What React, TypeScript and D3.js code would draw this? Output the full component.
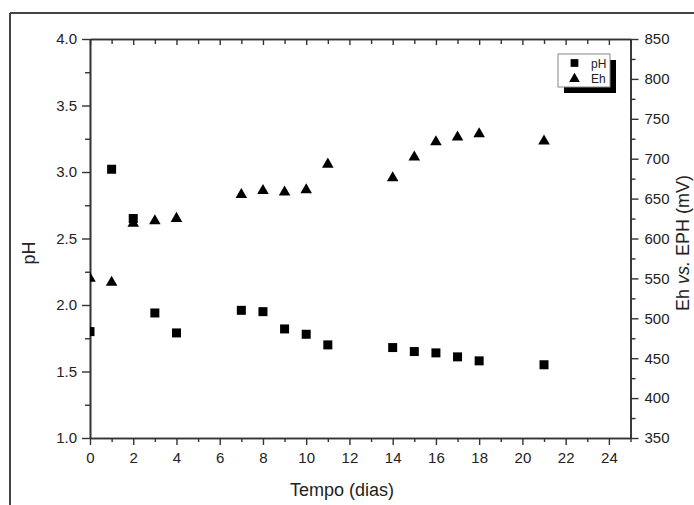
import React, { useEffect, useRef } from "react";
import * as d3 from "d3";

const days = [0, 1, 2, 3, 4, 7, 8, 9, 10, 11, 14, 15, 16, 17, 18, 21];
const phValues = [1.8, 3.02, 2.65, 1.94, 1.79, 1.96, 1.95, 1.82, 1.78, 1.7, 1.68, 1.65, 1.64, 1.61, 1.58, 1.55];
const ehValues = [550, 545, 619, 622, 625, 655, 660, 658, 661, 693, 676, 702, 721, 727, 731, 722];
const xTicks = [0, 2, 4, 6, 8, 10, 12, 14, 16, 18, 20, 22, 24];
const xMinor = [1, 3, 5, 7, 9, 11, 13, 15, 17, 19, 21, 23, 25];
const phTicks = [1.0, 1.5, 2.0, 2.5, 3.0, 3.5, 4.0];
const phMinor = [1.25, 1.75, 2.25, 2.75, 3.25, 3.75];
const ehTicks = [350, 400, 450, 500, 550, 600, 650, 700, 750, 800, 850];
const ehMinor = [375, 425, 475, 525, 575, 625, 675, 725, 775, 825];
const legendLabels = ["pH", "Eh"];

const W = 694;
const H = 505;
const FONT = "'Liberation Sans', Arial, sans-serif";
const AX = "#333";

export default function App() {
  const ref = useRef<SVGSVGElement>(null);

  useEffect(() => {
    const svg = d3.select(ref.current);
    svg.selectAll("*").remove();

    const x = d3.scaleLinear().domain([0, 25]).range([90, 630.5]);
    const yL = d3.scaleLinear().domain([1, 4]).range([438, 39]);
    const yR = d3.scaleLinear().domain([350, 850]).range([438, 39]);

    // outer frame
    svg.append("line").attr("x1", 10).attr("x2", 10).attr("y1", 13).attr("y2", H)
      .attr("stroke", "#444").attr("stroke-width", 2);
    svg.append("line").attr("x1", 10).attr("x2", W).attr("y1", 13).attr("y2", 13)
      .attr("stroke", "#444").attr("stroke-width", 2);

    const styleAxis = (g: any) => {
      g.selectAll(".domain").attr("stroke", AX).attr("stroke-width", 1.6);
      g.selectAll(".tick line").attr("stroke", AX).attr("stroke-width", 1.4);
      g.selectAll("text").attr("fill", "#222").attr("font-family", FONT).attr("font-size", 15);
    };

    // bottom
    const gb = svg.append("g").attr("transform", `translate(0,438)`);
    gb.call(d3.axisBottom(x).tickValues(xTicks).tickSize(7).tickSizeOuter(0).tickPadding(7).tickFormat(d3.format("d") as any));
    styleAxis(gb);
    const gbm = svg.append("g").attr("transform", `translate(0,438)`);
    gbm.call(d3.axisBottom(x).tickValues(xMinor).tickSize(4).tickSizeOuter(0).tickFormat(() => ""));
    styleAxis(gbm);

    // top
    const gt = svg.append("g").attr("transform", `translate(0,39)`);
    gt.call(d3.axisBottom(x).tickValues(xTicks).tickSize(6).tickSizeOuter(0).tickFormat(() => ""));
    styleAxis(gt);
    const gtm = svg.append("g").attr("transform", `translate(0,39)`);
    gtm.call(d3.axisBottom(x).tickValues(xMinor).tickSize(5).tickSizeOuter(0).tickFormat(() => ""));
    styleAxis(gtm);

    // left
    const gl = svg.append("g").attr("transform", `translate(90,0)`);
    gl.call(d3.axisLeft(yL).tickValues(phTicks).tickSize(8).tickSizeOuter(0).tickPadding(5).tickFormat(d3.format(".1f") as any));
    styleAxis(gl);
    const glm = svg.append("g").attr("transform", `translate(90,0)`);
    glm.call(d3.axisLeft(yL).tickValues(phMinor).tickSize(5).tickSizeOuter(0).tickFormat(() => ""));
    styleAxis(glm);

    // right
    const gr = svg.append("g").attr("transform", `translate(630.5,0)`);
    gr.call(d3.axisRight(yR).tickValues(ehTicks).tickSize(8).tickSizeOuter(0).tickPadding(6).tickFormat(d3.format("d") as any));
    styleAxis(gr);
    const grm = svg.append("g").attr("transform", `translate(630.5,0)`);
    grm.call(d3.axisRight(yR).tickValues(ehMinor).tickSize(5).tickSizeOuter(0).tickFormat(() => ""));
    styleAxis(grm);

    // clip
    svg.append("defs").append("clipPath").attr("id", "plotclip")
      .append("rect").attr("x", 90).attr("y", 39).attr("width", 540.5).attr("height", 399);

    const plot = svg.append("g").attr("clip-path", "url(#plotclip)");
    const sq = d3.symbol().type(d3.symbolSquare).size(81);
    const tri = d3.symbol().type(d3.symbolTriangle).size(58);

    plot.selectAll("path.ph").data(days).enter().append("path")
      .attr("class", "ph")
      .attr("d", sq() as string)
      .attr("transform", (d, i) => `translate(${x(d)},${yL(phValues[i])})`)
      .attr("fill", "#000");
    plot.selectAll("path.eh").data(days).enter().append("path")
      .attr("class", "eh")
      .attr("d", tri() as string)
      .attr("transform", (d, i) => `translate(${x(d)},${yR(ehValues[i])})`)
      .attr("fill", "#000");

    // legend
    const lg = svg.append("g");
    lg.append("rect").attr("x", 564).attr("y", 60).attr("width", 52).attr("height", 33).attr("fill", "#000");
    lg.append("rect").attr("x", 558).attr("y", 54).attr("width", 52).attr("height", 33)
      .attr("fill", "#fff").attr("stroke", "#888").attr("stroke-width", 1);
    lg.append("path").attr("d", d3.symbol().type(d3.symbolSquare).size(60)() as string)
      .attr("transform", "translate(574.5,63)").attr("fill", "#000");
    lg.append("path").attr("d", d3.symbol().type(d3.symbolTriangle).size(50)() as string)
      .attr("transform", "translate(574.5,79)").attr("fill", "#000");
    legendLabels.forEach((t, i) => {
      lg.append("text").attr("x", 591).attr("y", 67.5 + i * 15.5).text(t)
        .attr("font-family", FONT).attr("font-size", 12).attr("fill", "#222");
    });

    // titles
    svg.append("text").attr("x", 342).attr("y", 496).attr("text-anchor", "middle")
      .attr("font-family", FONT).attr("font-size", 18).attr("fill", "#222").text("Tempo (dias)");
    svg.append("text").attr("transform", "translate(35,253) rotate(-90)").attr("text-anchor", "middle")
      .attr("font-family", FONT).attr("font-size", 18).attr("fill", "#222").text("pH");
    const rt = svg.append("text").attr("transform", "translate(689,243) rotate(-90)").attr("text-anchor", "middle")
      .attr("font-family", FONT).attr("font-size", 18).attr("fill", "#222");
    rt.append("tspan").text("Eh ");
    rt.append("tspan").attr("font-style", "italic").text("vs.");
    rt.append("tspan").text(" EPH (mV)");
  }, []);

  return (
    <svg ref={ref} width={W} height={H} style={{ position: "absolute", left: 0, top: 0, background: "#fff" }} />
  );
}
